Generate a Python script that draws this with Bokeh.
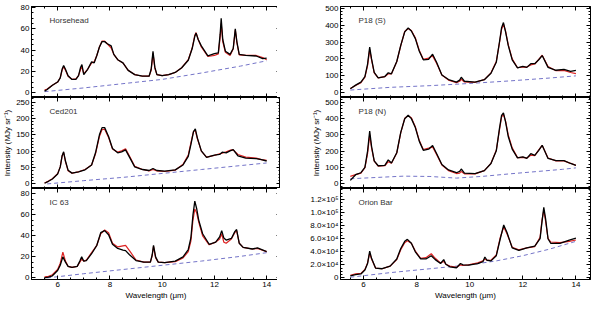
from bokeh.plotting import figure
from bokeh.layouts import row, column
from bokeh.models import (Range1d, SingleIntervalTicker, LinearAxis, Label,
                          CustomLabelingPolicy)
from bokeh.embed import file_html
from bokeh.resources import INLINE

# ---------------- data ----------------
HH_WL = [5.5, 5.6, 5.8, 6.0, 6.1, 6.17, 6.23, 6.3, 6.4, 6.55, 6.7, 6.8, 6.88, 6.93, 7.0, 7.15, 7.3, 7.4,
         7.5, 7.6, 7.7, 7.8, 7.9, 8.05, 8.15, 8.3, 8.5, 8.7, 8.95, 9.25, 9.5, 9.58, 9.65, 9.72, 9.8, 10.0,
         10.25, 10.5, 10.75, 11.0, 11.15, 11.25, 11.3, 11.38, 11.5, 11.75, 12.0, 12.15, 12.22, 12.26, 12.32,
         12.42, 12.6, 12.72, 12.8, 12.86, 12.95, 13.2, 13.6, 13.85, 14.0]
HH_OBS = [1.5, 3, 7, 10, 14, 22, 25.5, 22, 16, 12.5, 12.5, 16, 24, 26.5, 17, 22, 29, 28, 35, 43, 48, 48, 46,
          44, 36, 31, 28, 21, 17, 15.5, 15.5, 22, 39, 24, 17, 16, 17, 19, 23.5, 30.5, 41.5, 53, 56, 50, 44,
          34.7, 36.7, 37.5, 55, 70, 50, 39, 36, 41.5, 60, 48, 36, 35, 34.5, 32, 32.5]
HH_MOD = [2.5, 3.5, 7, 10, 14, 21, 24.5, 21, 15.5, 12.5, 13, 16, 22, 24, 18, 22, 28, 29, 35, 43, 48.5, 48.5,
          46, 42, 36, 31, 28, 21, 17, 15.5, 15.5, 21, 37, 23, 17, 16, 17, 19, 23.5, 31, 42, 54, 56.5, 50, 43,
          34, 35, 36.5, 52, 65, 48, 38, 35, 41, 59, 47, 35.5, 35, 35, 33, 31]
HH_CONT_WL = [5.5, 7.0, 8.5, 10.0, 11.5, 13.0, 14.0]
HH_CONT = [1, 4.5, 8.5, 12.5, 18.5, 25, 30]

CED_WL = [5.5, 5.65, 5.8, 6.0, 6.1, 6.17, 6.23, 6.3, 6.4, 6.55, 6.8, 7.05, 7.3, 7.45, 7.6, 7.7, 7.8, 7.95,
          8.1, 8.3, 8.45, 8.6, 8.75, 8.95, 9.25, 9.5, 9.65, 9.8, 10.1, 10.5, 10.8, 11.0, 11.1, 11.2, 11.27,
          11.35, 11.5, 11.7, 12.0, 12.2, 12.3, 12.45, 12.6, 12.72, 12.9, 13.2, 13.6, 13.8, 14.0]
CED_OBS = [2, 8, 15, 30, 52, 85, 98, 70, 42, 33, 37, 43, 58, 95, 150, 172, 172, 145, 108, 95, 98, 104, 82,
           52, 44, 41, 47, 41, 39, 43, 58, 84, 120, 160, 168, 140, 101, 81, 88, 90, 97, 95, 101, 105, 86, 79,
           77, 74, 70]
CED_MOD = [3, 9, 16, 31, 52, 85, 96, 68, 40, 33, 37, 44, 58, 92, 145, 166, 167, 142, 107, 97, 101, 107, 85,
           54, 44, 40, 44, 40, 38, 42, 60, 88, 125, 160, 163, 138, 100, 82, 87, 92, 94, 98, 103, 104, 90, 82,
           79, 74, 72]
CED_CONT_WL = [5.6, 7.0, 8.5, 10.0, 11.5, 13.0, 14.0]
CED_CONT = [0, 10, 20, 32, 44, 56, 64]

IC_WL = [5.5, 5.65, 5.8, 6.0, 6.1, 6.2, 6.3, 6.4, 6.55, 6.75, 6.85, 6.92, 7.0, 7.1, 7.3, 7.5, 7.65, 7.8,
         7.95, 8.1, 8.3, 8.5, 8.6, 8.75, 9.0, 9.3, 9.55, 9.62, 9.67, 9.75, 9.85, 10.1, 10.5, 10.8, 11.0, 11.1,
         11.18, 11.25, 11.32, 11.4, 11.55, 11.8, 12.05, 12.2, 12.28, 12.36, 12.45, 12.65, 12.78, 12.85, 12.95,
         13.1, 13.45, 13.65, 14.0]
IC_OBS = [0, 0.8, 2, 7, 12, 20, 15, 11, 10, 11, 16, 20, 16, 16.5, 23, 31, 43, 45, 41, 32, 28, 26.5, 26, 22,
          16.5, 15, 15, 22, 31, 20, 15, 14.5, 16, 20, 27, 38, 60, 73, 66, 55, 42, 32, 34, 39, 45, 38, 36, 37.5,
          44, 46, 33, 29, 27.5, 28.5, 25]
IC_MOD = [1, 1.5, 3, 8, 14, 24.5, 16, 11, 10, 11, 15, 18, 16, 17, 24, 31, 42, 45.5, 43, 33, 29.5, 30.5, 31,
          26, 17, 15, 15, 21, 30, 19, 15, 14.5, 15.5, 19, 25, 35, 55, 65.5, 62, 53, 40, 31.5, 34, 37, 42, 34,
          33, 37, 43, 45, 33, 29, 27.5, 28, 25]
IC_CONT_WL = [5.6, 7.0, 8.5, 10.0, 11.5, 13.0, 14.0]
IC_CONT = [0, 4, 8, 12, 16, 20.5, 24]

P18_WL = [5.5, 5.7, 5.9, 6.05, 6.15, 6.23, 6.3, 6.4, 6.55, 6.8, 6.93, 7.05, 7.25, 7.4, 7.55, 7.68, 7.8, 7.95,
          8.1, 8.25, 8.45, 8.6, 8.75, 8.95, 9.2, 9.5, 9.62, 9.68, 9.8, 10.2, 10.55, 10.8, 11.0, 11.12, 11.2,
          11.27, 11.35, 11.45, 11.6, 11.8, 12.0, 12.15, 12.3, 12.45, 12.6, 12.73, 12.95, 13.25, 13.55, 13.8, 14.0]
P18S_OBS = [24, 45, 63, 95, 170, 270, 200, 120, 88, 96, 118, 112, 185, 280, 360, 383, 365, 320, 245, 195, 198,
            228, 180, 105, 78, 63, 75, 92, 68, 63, 77, 115, 180, 300, 385, 415, 360, 280, 195, 147, 156, 150,
            172, 172, 195, 220, 150, 133, 138, 126, 132]
P18S_MOD = [25, 43, 60, 92, 160, 255, 195, 118, 88, 95, 112, 112, 183, 278, 362, 380, 368, 325, 250, 198, 205,
            218, 175, 105, 75, 60, 68, 80, 64, 62, 78, 118, 185, 295, 375, 405, 365, 285, 200, 148, 153, 152,
            165, 170, 198, 222, 155, 130, 132, 120, 113]
P18S_CONT_WL = [5.5, 7.0, 8.5, 10.0, 11.5, 13.0, 14.0]
P18S_CONT = [16, 32, 42, 55, 70, 87, 100]

P18N_OBS = [20, 55, 67, 100, 200, 324, 230, 140, 110, 112, 146, 127, 190, 315, 399, 421, 400, 345, 260, 205,
            212, 235, 185, 118, 84, 67, 75, 90, 64, 62, 80, 124, 202, 340, 420, 436, 380, 290, 212, 159, 165,
            155, 184, 174, 205, 236, 155, 142, 142, 124, 112]
P18N_MOD = [45, 55, 65, 98, 185, 300, 220, 138, 108, 110, 135, 125, 188, 312, 402, 418, 405, 350, 265, 210,
            218, 225, 180, 115, 80, 62, 65, 75, 60, 60, 80, 125, 205, 330, 410, 425, 385, 300, 220, 160, 162,
            158, 175, 172, 208, 235, 158, 140, 140, 125, 112]
P18N_CONT_WL = [5.5, 6.5, 7.5, 8.5, 9.5, 10.5, 11.5, 12.5, 13.5, 14.0]
P18N_CONT = [30, 38, 46, 44, 34, 45, 60, 74, 88, 97]

ORI_WL = [5.5, 5.7, 5.9, 6.05, 6.15, 6.23, 6.3, 6.45, 6.7, 7.0, 7.25, 7.4, 7.55, 7.65, 7.8, 7.95, 8.15, 8.35,
          8.55, 8.7, 8.9, 9.02, 9.1, 9.25, 9.5, 9.65, 9.75, 9.95, 10.3, 10.5, 10.57, 10.65, 10.8, 11.0, 11.15,
          11.28, 11.4, 11.6, 11.85, 12.15, 12.45, 12.65, 12.72, 12.79, 12.86, 12.95, 13.05, 13.4, 13.75, 14.0]
# Orion Bar values in units of 1e4 MJy/sr
ORI_OBS_E4 = [0.3, 0.5, 0.6, 1.2, 2.2, 4.1, 3.0, 1.5, 1.4, 1.8, 2.9, 4.5, 5.6, 5.9, 5.3, 4.0, 2.9, 2.9, 3.4,
              2.8, 2.2, 2.8, 2.1, 1.7, 1.55, 2.2, 2.0, 1.95, 2.2, 2.5, 3.2, 2.7, 2.6, 3.4, 6.0, 8.1, 7.0, 4.6,
              4.2, 4.6, 4.85, 6.0, 8.5, 10.8, 9.0, 6.0, 5.3, 5.3, 5.8, 6.1]
ORI_MOD_E4 = [0.4, 0.6, 0.7, 1.3, 2.3, 3.8, 2.9, 1.5, 1.4, 1.8, 2.8, 4.3, 5.4, 5.7, 5.3, 4.1, 3.0, 3.1, 3.7,
              3.0, 2.3, 2.5, 2.1, 1.8, 1.6, 2.0, 1.9, 2.0, 2.3, 2.6, 2.9, 2.7, 2.7, 3.5, 6.2, 7.8, 6.8, 4.7,
              4.3, 4.6, 4.8, 6.2, 8.8, 10.4, 8.6, 6.0, 5.5, 5.4, 5.6, 5.8]
ORI_CONT_WL = [5.5, 7.0, 8.5, 10.0, 11.0, 12.0, 13.0, 14.0]
ORI_CONT_E4 = [0.1, 0.8, 1.4, 2.0, 2.6, 3.4, 4.4, 5.6]

ORI_TICK_LABELS = {0: "0", 20000: "2.0×10⁴", 40000: "4.0×10⁴", 60000: "6.0×10⁴",
                   80000: "8.0×10⁴", 100000: "1.0×10⁵", 120000: "1.2×10⁵"}

X_LABEL = "Wavelength (μm)"
Y_LABEL = "Intensity (MJy sr⁻¹)"

# ---------------- styling ----------------
FONT = "Liberation Sans"
FS = "8px"
OBS_COLOR = "black"
MOD_COLOR = "#dd2222"
CONT_COLOR = "#7474c8"
FRAME_W_L, FRAME_W_R, FRAME_H = 249, 250, 91

HIDE_ALL = "for (const i of indices) { indices.unset(i) }\nreturn indices"


def style_axis(ax, show_labels):
    ax.major_tick_in = 4
    ax.major_tick_out = 0
    ax.minor_tick_in = 2
    ax.minor_tick_out = 0
    ax.axis_line_color = "black"
    ax.major_tick_line_color = "black"
    ax.minor_tick_line_color = "black"
    ax.major_label_text_font = FONT
    ax.major_label_text_color = "black"
    ax.axis_label_text_font = FONT
    ax.axis_label_text_font_style = "normal"
    ax.axis_label_text_font_size = FS
    ax.axis_label_text_color = "black"
    ax.axis_label_standoff = 1
    if show_labels:
        ax.major_label_text_font_size = FS
        ax.major_label_standoff = 2
    else:
        # tick marks only: labels take no room and are never drawn
        ax.major_label_text_font_size = "0px"
        ax.major_label_standoff = 0
        ax.major_label_policy = CustomLabelingPolicy(code=HIDE_ALL)


def panel(xr, yr, yint, yminor, wl, obs, mod, cwl, cont, name, first, last,
          side, ylabel=None, overrides=None):
    fw = FRAME_W_L if side == "L" else FRAME_W_R
    p = figure(frame_width=fw, frame_height=FRAME_H,
               x_range=Range1d(*xr), y_range=Range1d(*yr),
               output_backend="svg", toolbar_location=None,
               x_axis_location=None, y_axis_location=None,
               min_border_left=28 if side == "L" else 60,
               min_border_right=0 if side == "L" else 5,
               min_border_top=6 if first else 0,
               min_border_bottom=23 if last else 0,
               background_fill_color="white", border_fill_color="white")
    p.xgrid.visible = False
    p.ygrid.visible = False
    p.outline_line_color = "black"
    p.outline_line_width = 1

    for loc in ("below", "above"):
        ax = LinearAxis(ticker=SingleIntervalTicker(interval=2, num_minor_ticks=4))
        show = (loc == "below" and last)
        style_axis(ax, show)
        if show:
            ax.axis_label = X_LABEL
        p.add_layout(ax, loc)
    for loc in ("left", "right"):
        ax = LinearAxis(ticker=SingleIntervalTicker(interval=yint, num_minor_ticks=yminor))
        show = (loc == "left")
        style_axis(ax, show)
        if show and ylabel:
            ax.axis_label = ylabel
        if show and overrides:
            ax.major_label_overrides = overrides
        p.add_layout(ax, loc)

    p.line(cwl, cont, line_color=CONT_COLOR, line_width=1, line_dash="4 3")
    p.line(wl, mod, line_color=MOD_COLOR, line_width=1.2)
    p.line(wl, obs, line_color=OBS_COLOR, line_width=1.3)

    x0 = xr[0] + (xr[1] - xr[0]) * (18.0 / fw)
    y0 = yr[1] - (yr[1] - yr[0]) * (14.0 / FRAME_H)
    p.add_layout(Label(x=x0, y=y0, text=name, text_font=FONT, text_font_size=FS,
                       text_color="#333333", text_baseline="middle"))
    return p


XL = (5.0, 14.53)
XR = (5.13, 14.55)

l1 = panel(XL, (-4.5, 81), 20, 4, HH_WL, HH_OBS, HH_MOD, HH_CONT_WL, HH_CONT,
           "Horsehead", True, False, "L")
l2 = panel(XL, (-14, 264), 50, 5, CED_WL, CED_OBS, CED_MOD, CED_CONT_WL, CED_CONT,
           "Ced201", False, False, "L", ylabel=Y_LABEL)
l3 = panel(XL, (-1.5, 85), 20, 4, IC_WL, IC_OBS, IC_MOD, IC_CONT_WL, IC_CONT,
           "IC 63", False, True, "L")

r1 = panel(XR, (-28, 510), 100, 5, P18_WL, P18S_OBS, P18S_MOD, P18S_CONT_WL, P18S_CONT,
           "P18 (S)", True, False, "R")
r2 = panel(XR, (-30, 530), 100, 5, P18_WL, P18N_OBS, P18N_MOD, P18N_CONT_WL, P18N_CONT,
           "P18 (N)", False, False, "R", ylabel=Y_LABEL)
r3 = panel(XR, (-2500, 137000), 20000, 4, ORI_WL,
           [v * 1e4 for v in ORI_OBS_E4], [v * 1e4 for v in ORI_MOD_E4],
           ORI_CONT_WL, [v * 1e4 for v in ORI_CONT_E4],
           "Orion Bar", False, True, "R", overrides=ORI_TICK_LABELS)

layout = row(column(l1, l2, l3, spacing=0), column(r1, r2, r3, spacing=0), spacing=0)

open("out.html", "w").write(file_html(layout, INLINE))
